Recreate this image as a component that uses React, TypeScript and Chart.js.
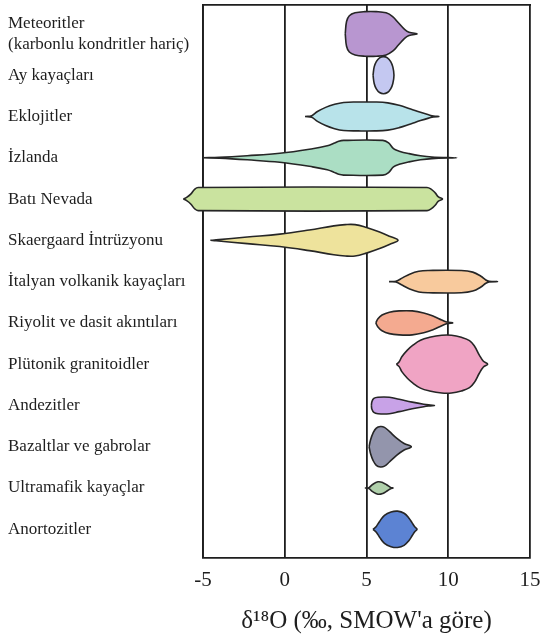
import React, { useEffect, useRef } from "react";
import { Chart, registerables } from "chart.js";

Chart.register(...registerables);

// Categories (rows, top to bottom)
const categories: (string | string[])[] = [
  ["Meteoritler", "(karbonlu kondritler hariç)"],
  "Ay kayaçları",
  "Eklojitler",
  "İzlanda",
  "Batı Nevada",
  "Skaergaard İntrüzyonu",
  "İtalyan volkanik kayaçları",
  "Riyolit ve dasit akıntıları",
  "Plütonik granitoidler",
  "Andezitler",
  "Bazaltlar ve gabrolar",
  "Ultramafik kayaçlar",
  "Anortozitler",
];

// δ18O tick values
const xTicks = [-5, 0, 5, 10, 15];

// Distribution profiles: [δ18O value, relative half-width (in row units)]
const meteoritler: [number, number][] = [
  [3.7, 0], [3.78, 0.3], [3.95, 0.44], [4.3, 0.51], [4.9, 0.54], [5.6, 0.54],
  [6.2, 0.51], [6.6, 0.42], [6.95, 0.27], [7.3, 0.12], [7.6, 0.04], [8.1, 0],
];
const ayKayaclari: [number, number][] = [
  [5.4, 0], [5.47, 0.2], [5.6, 0.33], [5.8, 0.42], [6.04, 0.45], [6.28, 0.42],
  [6.48, 0.33], [6.61, 0.2], [6.68, 0],
];
const eklojitler: [number, number][] = [
  [1.24, 0], [1.65, 0.02], [2.0, 0.12], [2.5, 0.22], [3.0, 0.29], [3.6, 0.34],
  [4.5, 0.35], [5.5, 0.35], [6.3, 0.33], [7.0, 0.27], [7.7, 0.18], [8.3, 0.1],
  [8.8, 0.04], [9.1, 0.01], [9.43, 0],
];
const izlanda: [number, number][] = [
  [-5.0, 0], [-4.0, 0.01], [-2.3, 0.05], [-0.3, 0.11], [1.7, 0.22], [2.6, 0.29],
  [3.0, 0.35], [3.3, 0.4], [3.6, 0.42], [6.0, 0.42], [6.35, 0.36], [6.65, 0.22],
  [7.0, 0.16], [7.6, 0.1], [8.3, 0.05], [9.0, 0.02], [10.52, 0],
];
const batiNevada: [number, number][] = [
  [-6.2, 0], [-6.0, 0.04], [-5.75, 0.12], [-5.5, 0.24], [-5.3, 0.28],
  [8.7, 0.28], [8.95, 0.24], [9.2, 0.15], [9.4, 0.05], [9.65, 0],
];
const skaergaard: [number, number][] = [
  [-4.55, 0], [-4.2, 0.01], [-2.3, 0.08], [-0.3, 0.15], [1.5, 0.25], [3.0, 0.35],
  [3.7, 0.38], [4.3, 0.38], [5.0, 0.31], [5.8, 0.2], [6.4, 0.1], [6.93, 0],
];
const italyan: [number, number][] = [
  [6.38, 0], [6.8, 0.01], [7.2, 0.09], [7.64, 0.18], [8.2, 0.25], [8.8, 0.27],
  [10.8, 0.27], [11.5, 0.23], [12.0, 0.13], [12.3, 0.04], [12.5, 0.01], [13.02, 0],
];
const riyolit: [number, number][] = [
  [5.57, 0], [5.7, 0.1], [5.95, 0.19], [6.4, 0.26], [7.0, 0.29], [7.8, 0.29],
  [8.5, 0.24], [9.1, 0.16], [9.6, 0.07], [9.9, 0.02], [10.28, 0],
];
const plutonik: [number, number][] = [
  [6.83, 0], [7.0, 0.06], [7.16, 0.18], [7.5, 0.34], [7.84, 0.46], [8.3, 0.58],
  [8.86, 0.65], [9.6, 0.7], [10.2, 0.7], [10.8, 0.65], [11.3, 0.57], [11.6, 0.44],
  [11.9, 0.22], [12.15, 0.07], [12.41, 0],
];
const andezitler: [number, number][] = [
  [5.3, 0], [5.33, 0.09], [5.45, 0.17], [5.7, 0.2], [6.4, 0.2], [7.0, 0.15],
  [7.8, 0.08], [8.5, 0.03], [8.9, 0.01], [9.16, 0],
];
const bazaltlar: [number, number][] = [
  [5.16, 0], [5.25, 0.17], [5.4, 0.33], [5.6, 0.45], [5.85, 0.49], [6.1, 0.47],
  [6.4, 0.37], [6.84, 0.21], [7.3, 0.08], [7.74, 0],
];
const ultramafik: [number, number][] = [
  [4.9, 0], [5.15, 0.01], [5.35, 0.08], [5.7, 0.15], [6.0, 0.13], [6.3, 0.06],
  [6.5, 0.01], [6.62, 0],
];
const anortozitler: [number, number][] = [
  [5.4, 0], [5.6, 0.07], [5.8, 0.19], [6.1, 0.34], [6.5, 0.42], [6.9, 0.44],
  [7.3, 0.39], [7.6, 0.27], [7.8, 0.15], [7.95, 0.06], [8.09, 0],
];

const profiles = [
  meteoritler, ayKayaclari, eklojitler, izlanda, batiNevada, skaergaard, italyan,
  riyolit, plutonik, andezitler, bazaltlar, ultramafik, anortozitler,
];

const colors = [
  "#b896d0", "#c4c8f1", "#b8e3ea", "#abdec4", "#cae39f", "#eee39c", "#f8ca9d",
  "#f4aa90", "#f0a4c4", "#c8a2e7", "#9395ac", "#b0d0ab", "#5c83d3",
];

const FONT = "'Liberation Serif', 'Times New Roman', serif";
const INK = "#1e1e1e";

function outline(profile: [number, number][], row: number) {
  const top = profile.map(([x, h]) => ({ x, y: row - h }));
  const bottom = profile
    .slice(1, -1)
    .reverse()
    .map(([x, h]) => ({ x, y: row + h }));
  return [...top, ...bottom, { x: profile[0][0], y: row }];
}

const shapeFill = {
  id: "shapeFill",
  beforeDatasetDraw(chart: any, args: any) {
    const line = args.meta.dataset;
    if (!line || !line.points || !line.points.length) return;
    const ctx = chart.ctx;
    line.updateControlPoints(chart.chartArea, "x");
    ctx.save();
    ctx.beginPath();
    line.path(ctx);
    ctx.closePath();
    ctx.fillStyle = line.options.backgroundColor;
    ctx.fill();
    ctx.restore();
  },
};

export default function App() {
  const ref = useRef<HTMLCanvasElement | null>(null);

  useEffect(() => {
    document.body.style.margin = "0";
    if (!ref.current) return;
    const datasets = profiles.map((p, i) => ({
      data: outline(p, i),
      showLine: true,
      pointRadius: 0,
      pointHoverRadius: 0,
      borderColor: "#262626",
      borderWidth: 1.6,
      backgroundColor: colors[i],
      fill: false,
      tension: 0.4,
      capBezierPoints: false,
      clip: false as any,
    }));

    const chart = new Chart(ref.current, {
      type: "scatter",
      data: { datasets },
      plugins: [shapeFill],
      options: {
        animation: false,
        responsive: false,
        devicePixelRatio: 1,
        events: [],
        layout: { padding: { left: 8, right: 16, top: 5, bottom: 0 } },
        plugins: { legend: { display: false }, tooltip: { enabled: false } },
        scales: {
          x: {
            type: "linear",
            min: -5,
            max: 15,
            afterBuildTicks: (s: any) => {
              s.ticks = xTicks.map((v) => ({ value: v }));
            },
            afterFit: (s: any) => {
              s.paddingRight = 0;
              s.paddingLeft = 0;
            },
            ticks: {
              font: { family: FONT, size: 21 },
              color: INK,
              padding: 10,
              maxRotation: 0,
            },
            grid: { color: INK, lineWidth: 1.8, drawTicks: false },
            border: { color: INK, width: 1.8 },
            title: {
              display: true,
              text: "δ¹⁸O (‰, SMOW'a göre)",
              font: { family: FONT, size: 25 },
              color: INK,
              padding: { top: 3, bottom: 4 },
            },
          },
          x2: {
            type: "linear",
            position: "top",
            display: true,
            min: -5,
            max: 15,
            ticks: { display: false },
            grid: { display: false, drawTicks: false },
            border: { display: true, color: INK, width: 1.8 },
          },
          y: {
            type: "linear",
            reverse: true,
            min: -0.7,
            max: 12.69,
            afterBuildTicks: (s: any) => {
              s.ticks = categories.map((_, i) => ({ value: i }));
            },
            afterFit: (s: any) => {
              s.width = 195;
              s.paddingTop = 0;
              s.paddingBottom = 0;
            },
            ticks: {
              autoSkip: false,
              crossAlign: "far",
              padding: 0,
              font: { family: FONT, size: 17, lineHeight: 1.25 },
              color: INK,
              callback: (v: any) => categories[Math.round(Number(v))] as any,
            },
            grid: { display: false, drawTicks: false },
            border: { color: INK, width: 1.8 },
          },
        },
      } as any,
    });
    return () => chart.destroy();
  }, []);

  return <canvas ref={ref} width={546} height={640} style={{ display: "block" }} />;
}
